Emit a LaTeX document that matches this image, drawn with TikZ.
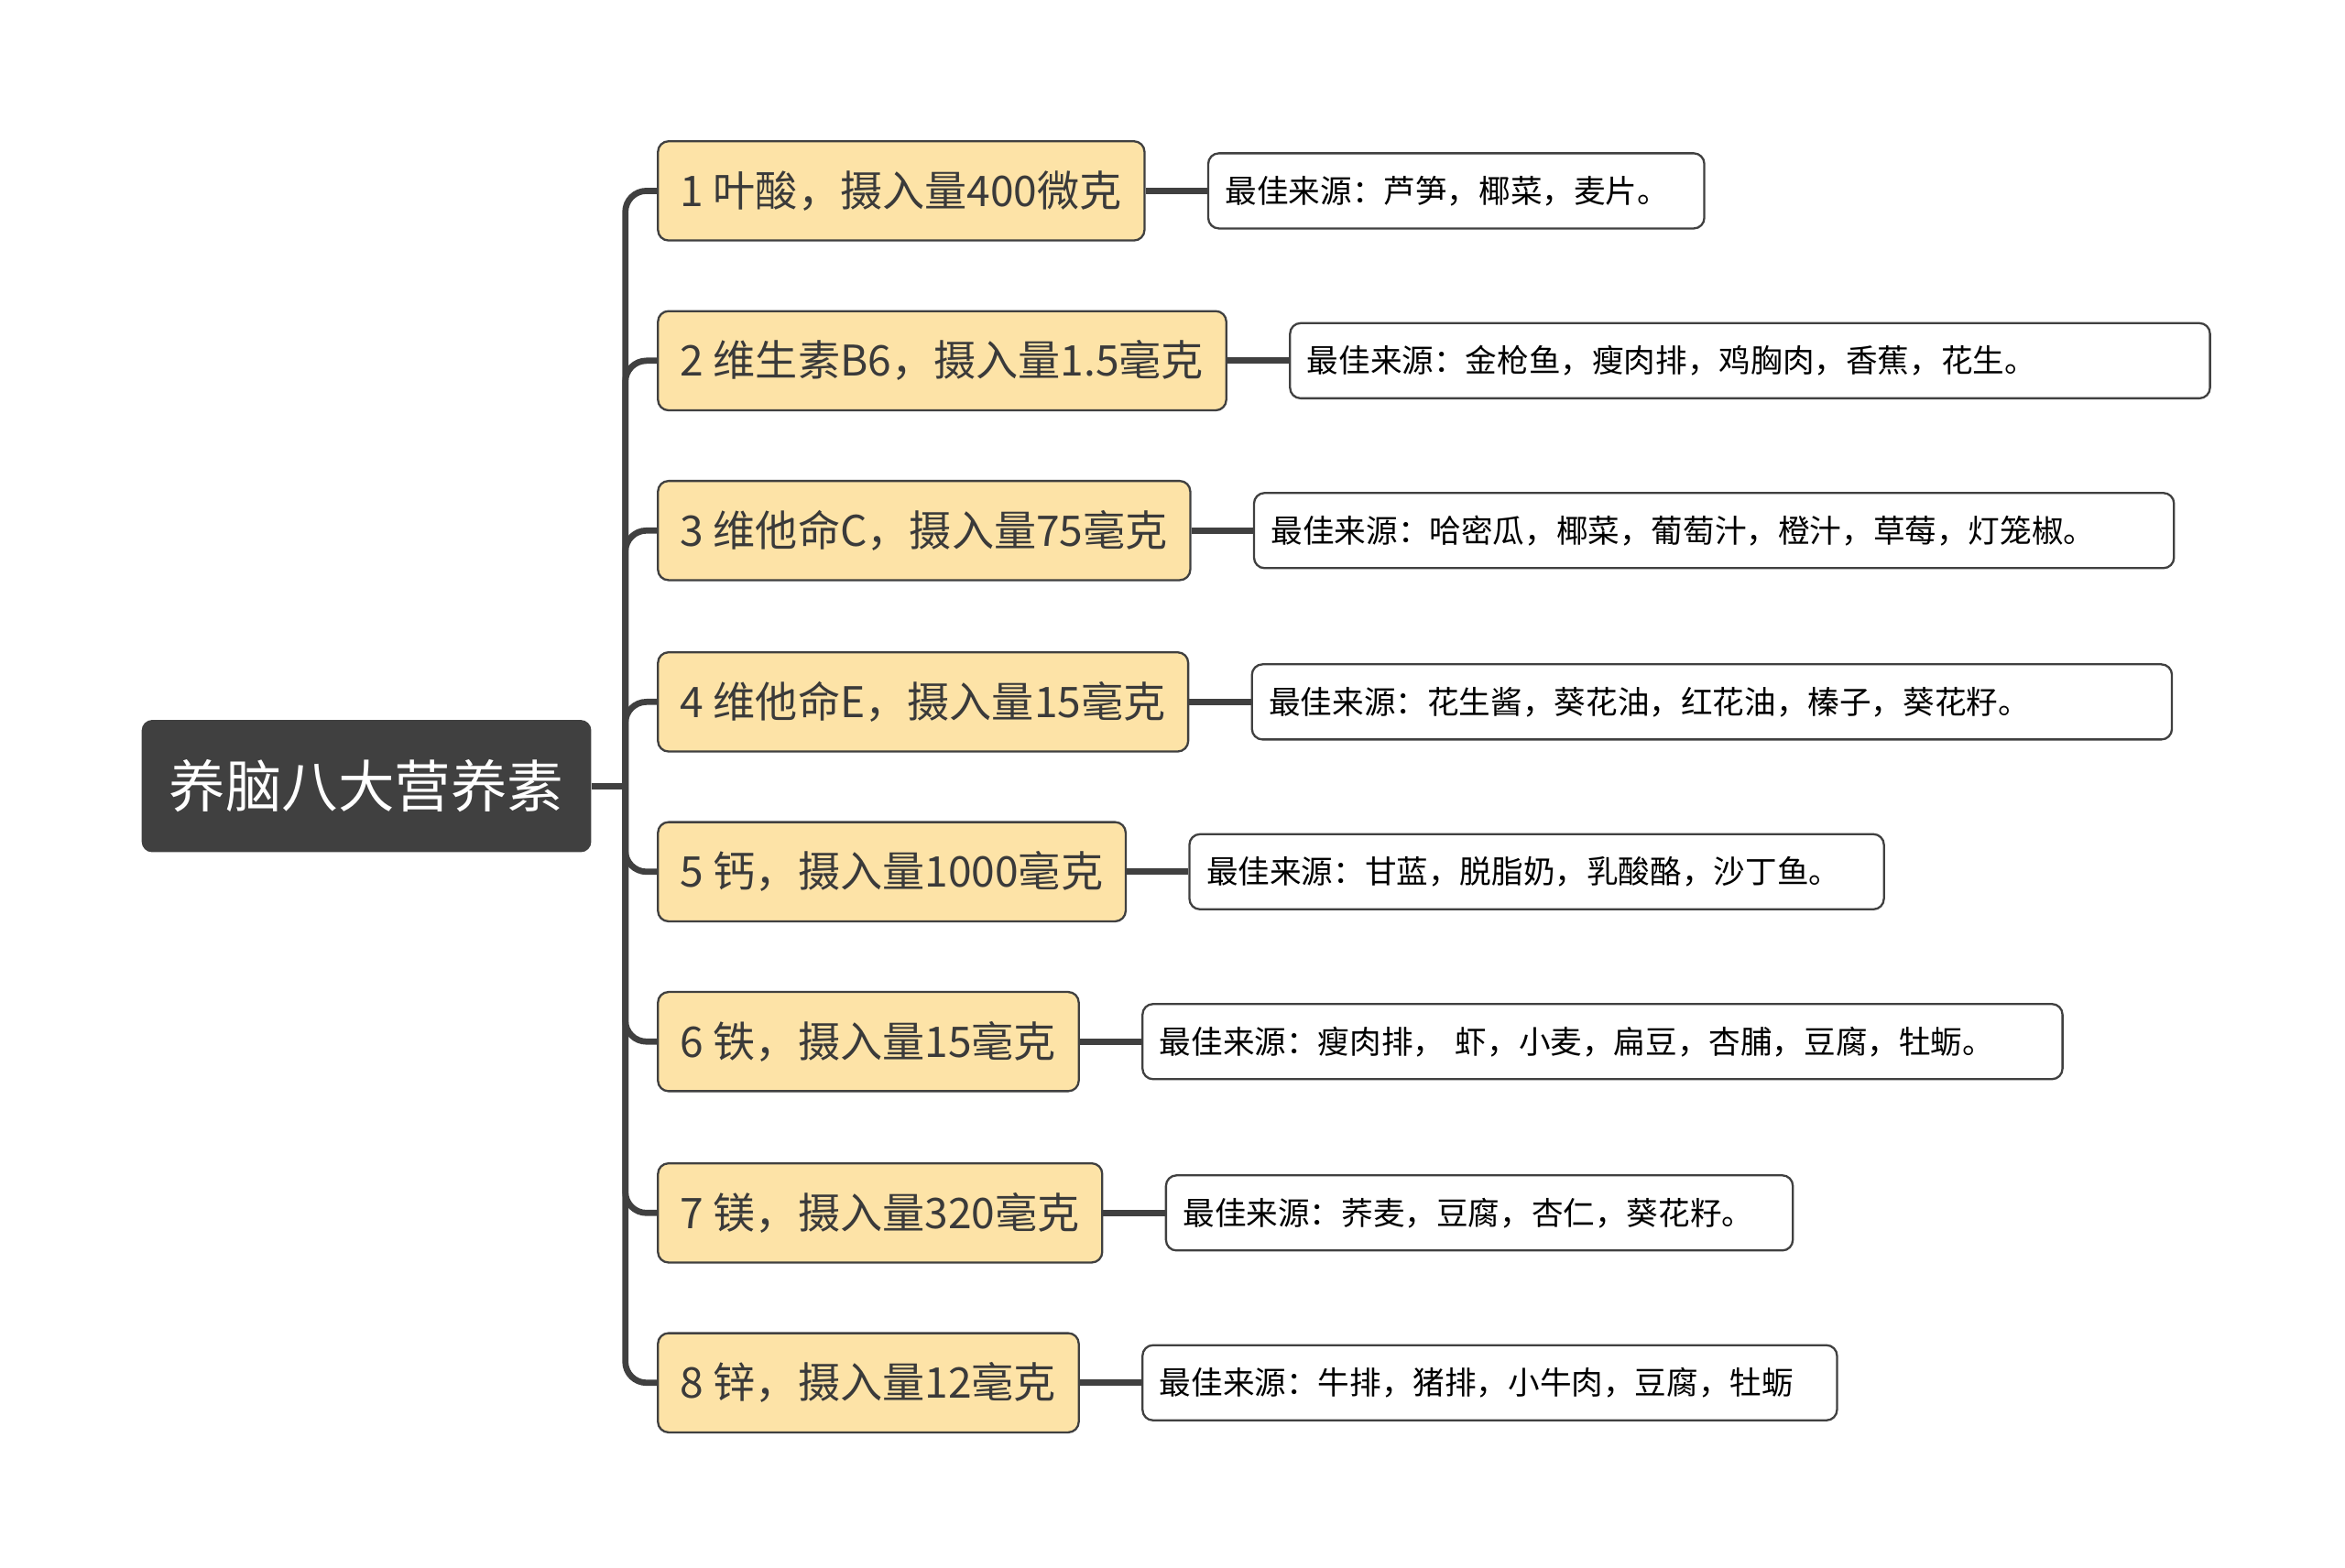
\documentclass[tikz,border=0pt]{standalone}
\usepackage{fontspec}
\setmainfont{Noto Sans CJK SC}
\usetikzlibrary{positioning}
\definecolor{darkline}{HTML}{404040}
\definecolor{paleyellow}{HTML}{FDE3A7}
\tikzset{
  root box/.style={
    fill=darkline, text=white, rounded corners=6pt,
    minimum height=2.64cm, inner xsep=0.55cm,
    font=\fontsize{32}{36}\selectfont,
  },
  nutrient box/.style={
    fill=paleyellow, draw=darkline, line width=1.2pt, rounded corners=6pt,
    minimum height=1.98cm, inner xsep=0.45cm,
    font=\fontsize{24}{28}\selectfont, text=darkline!90!black,
  },
  source box/.style={
    fill=white, draw=darkline, line width=1.2pt, rounded corners=6pt,
    minimum height=1.5cm, inner xsep=0.34cm,
    text width={0.03cm*#1-0.68cm}, align=left,
    font=\fontsize{18}{22}\selectfont, text=black,
  },
  link/.style={draw=darkline, line width=3.5pt},
}
\begin{document}
\begin{tikzpicture}[x=0.03cm, y=-0.03cm, node distance=1.23cm]
  \useasboundingbox (0,0) rectangle (1560,1043);
  \node [root box, anchor=west] (root) at (94,523) {养脑八大营养素};
  \coordinate (trunk) at (416,523);
  \draw [link] (root.east) -- (trunk);

  \foreach \i/\y/\w/\name/\src in {
    1/127/330/{1 叶酸，摄入量400微克}/{最佳来源：芦笋，椰菜，麦片。},
    2/240/612/{2 维生素B6，摄入量1.5毫克}/{最佳来源：金枪鱼，瘦肉排，鸡胸肉，香蕉，花生。},
    3/353/612/{3 维他命C，摄入量75毫克}/{最佳来源：哈密瓜，椰菜，葡萄汁，橙汁，草莓，灯笼椒。},
    4/467/612/{4 维他命E，摄入量15毫克}/{最佳来源：花生酱，葵花油，红花油，榛子，葵花籽。},
    5/580/462/{5 钙，摄入量1000毫克}/{最佳来源：甘蓝，脱脂奶，乳酸酪，沙丁鱼。},
    6/693/612/{6 铁，摄入量15毫克}/{最佳来源：瘦肉排， 虾，小麦，扁豆，杏脯，豆腐，牡蛎。},
    7/807/417/{7 镁，摄入量320毫克}/{最佳来源：荞麦，豆腐，杏仁，葵花籽。},
    8/920/462/{8 锌，摄入量12毫克}/{最佳来源：牛排，猪排，小牛肉，豆腐，牡蛎}} {
    \node [nutrient box, anchor=west] (n\i) at (437,\y) {\name};
    \node [source box=\w, right=of n\i] (s\i) {\src};
    \draw [link, rounded corners=12pt] (trunk) |- (n\i.west);
    \draw [link] (n\i.east) -- (s\i.west);
  }
\end{tikzpicture}
\end{document}
